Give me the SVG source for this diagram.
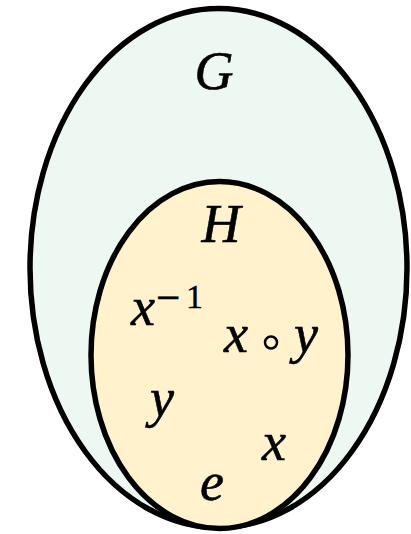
<svg xmlns="http://www.w3.org/2000/svg" width="411" height="534" viewBox="0 0 411 534">
  <style>
    .set { stroke: #000; stroke-width: 5.5; }
    .m { font-family: "Liberation Serif", "DejaVu Serif", serif; font-style: italic; font-size: 54px; fill: #000; stroke: #000; stroke-width: 0.6; text-anchor: middle; }
    .up { font-family: "Liberation Serif", "DejaVu Serif", serif; font-style: normal; font-size: 34px; fill: #000; stroke: #000; stroke-width: 0.4; }
    .minus { font-family: "DejaVu Sans", sans-serif; font-size: 32px; }
  </style>
  <rect width="411" height="534" fill="#fff"/>
  <g id="G">
    <ellipse class="set" cx="218.5" cy="268" rx="188.5" ry="259.5" fill="#EEF8F2"/>
    <text class="m" x="214" y="89">G</text>
  </g>
  <g id="H">
    <ellipse class="set" cx="219.5" cy="355" rx="128.5" ry="173.5" fill="#FFF2CC"/>
    <text class="m" x="221" y="242">H</text>
  </g>
  <g id="elements">
    <text class="m" x="143" y="325">x</text>
    <text class="up" x="155" y="308"><tspan class="minus">−</tspan><tspan x="186">1</tspan></text>
    <text class="m" x="236" y="352">x</text>
    <circle cx="271" cy="342.5" r="6" fill="none" stroke="#000" stroke-width="2.5"/>
    <text class="m" x="306" y="352">y</text>
    <text class="m" x="162" y="416">y</text>
    <text class="m" x="274" y="460">x</text>
    <text class="m" x="212" y="500">e</text>
  </g>
</svg>
